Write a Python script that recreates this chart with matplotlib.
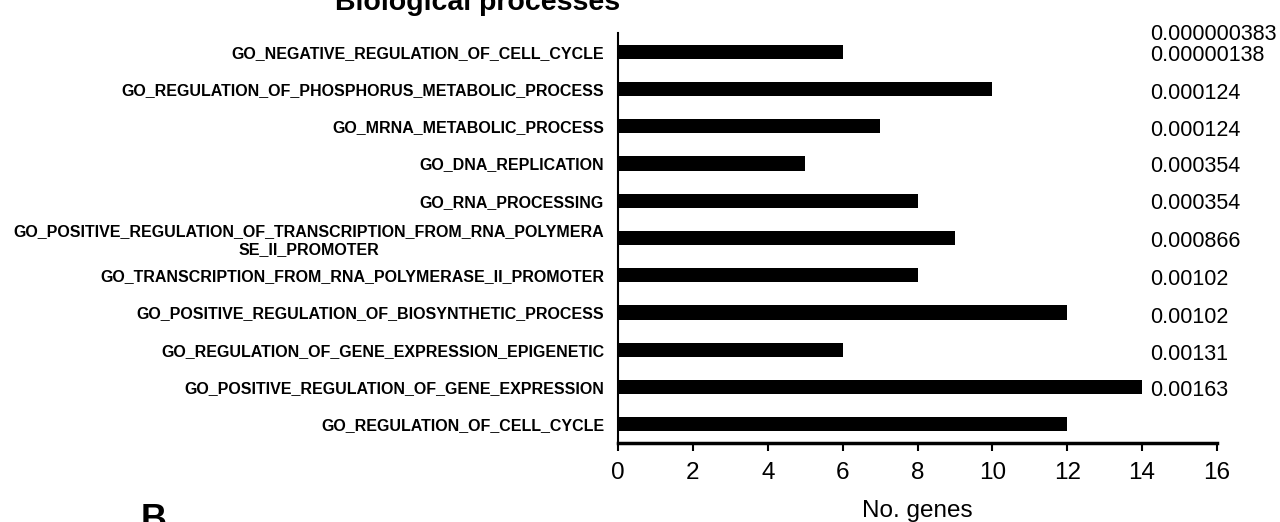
import matplotlib
matplotlib.use("Agg")
import matplotlib.pyplot as plt

categories = [
    "GO_NEGATIVE_REGULATION_OF_CELL_CYCLE",
    "GO_REGULATION_OF_PHOSPHORUS_METABOLIC_PROCESS",
    "GO_MRNA_METABOLIC_PROCESS",
    "GO_DNA_REPLICATION",
    "GO_RNA_PROCESSING",
    "GO_POSITIVE_REGULATION_OF_TRANSCRIPTION_FROM_RNA_POLYMERA\nSE_II_PROMOTER",
    "GO_TRANSCRIPTION_FROM_RNA_POLYMERASE_II_PROMOTER",
    "GO_POSITIVE_REGULATION_OF_BIOSYNTHETIC_PROCESS",
    "GO_REGULATION_OF_GENE_EXPRESSION_EPIGENETIC",
    "GO_POSITIVE_REGULATION_OF_GENE_EXPRESSION",
    "GO_REGULATION_OF_CELL_CYCLE",
]
gene_counts = [6, 10, 7, 5, 8, 9, 8, 12, 6, 14, 12]
p_values = ["0.000000383", "0.00000138", "0.000124", "0.000124", "0.000354",
            "0.000354", "0.000866", "0.00102", "0.00102", "0.00131", "0.00163"]
x_ticks = [0, 2, 4, 6, 8, 10, 12, 14, 16]

# layout: row positions of the p-value column (in bar-row units, 0 = top bar)
pval_rows = [-0.46, 0.11, 1.13, 2.12, 3.08, 4.07, 5.09, 6.11, 7.13, 8.12, 9.09]

plt.rcParams['font.family'] = ['Liberation Sans', 'DejaVu Sans']

fig = plt.figure(figsize=(12.8, 5.22), dpi=100)
ax = fig.add_axes([618/1280, 1 - 443/522, (1217-618)/1280, (443-33)/522])

ypos = list(range(len(categories)))
ax.barh(ypos, gene_counts, height=0.38, color='black')
ax.set_ylim(len(categories) - 0.5, -0.5)
ax.set_xlim(0, 16)
ax.set_xticks(x_ticks)
ax.set_xticklabels([str(t) for t in x_ticks], fontsize=17.5)
ax.set_yticks(ypos)
ax.set_yticklabels(categories, fontsize=11.5, fontweight='bold')
for lbl in ax.get_yticklabels():
    lbl.set_multialignment('center')
ax.tick_params(axis='y', length=0, pad=10)
ax.tick_params(axis='x', direction='out', length=6, width=1.5, pad=7.5)
for s in ['top', 'right']:
    ax.spines[s].set_visible(False)
ax.spines['left'].set_linewidth(1.5)
ax.spines['bottom'].set_linewidth(2.5)
ax.set_xlabel("No. genes", fontsize=17.5, labelpad=12)

for pv, r in zip(p_values, pval_rows):
    ax.annotate(pv, xy=(16.0, r), xycoords='data', xytext=(-67, 0),
                textcoords='offset pixels', fontsize=15.5, va='center', ha='left',
                annotation_clip=False)

fig.text(478/1280, 1 - 9.5/522, "Biological processes", fontsize=20.5,
         fontweight='bold', ha='center', va='baseline')
fig.text(141/1280, -0.016, "B", fontsize=26, fontweight='bold', ha='left', va='baseline')

fig.savefig("out.png", dpi=100)
